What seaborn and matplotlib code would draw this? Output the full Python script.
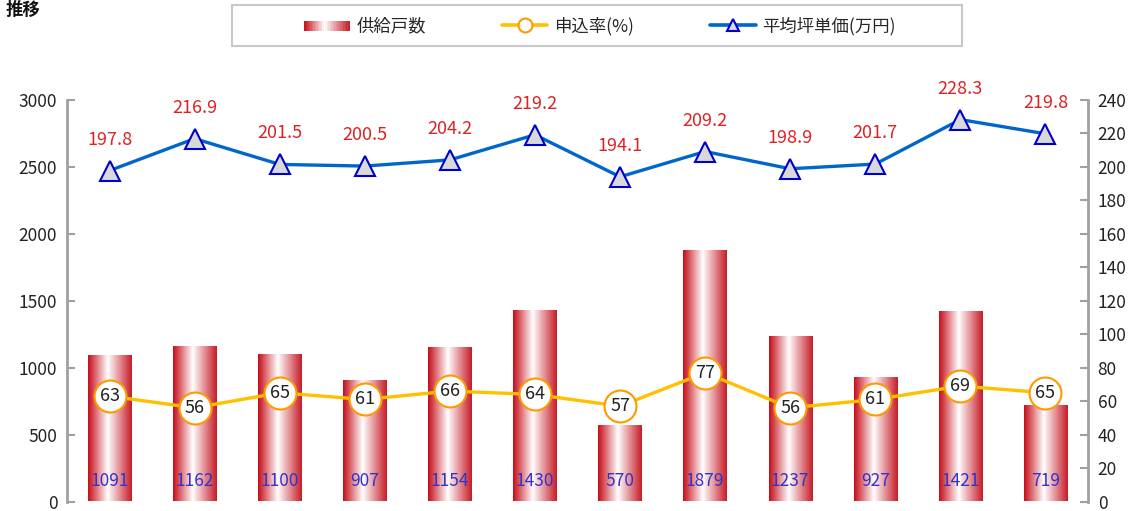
import numpy as np
import pandas as pd
import matplotlib
matplotlib.use("Agg")
import matplotlib.pyplot as plt
import seaborn as sns
from matplotlib.patches import Rectangle
from matplotlib.legend_handler import HandlerBase
from matplotlib.lines import Line2D
from matplotlib.colors import LinearSegmentedColormap

sns.set_theme(style="white")
plt.rcParams['font.family'] = ['Noto Sans CJK JP', 'DejaVu Sans']

# ---- data ----
periods = [str(i) for i in range(1, 13)]
supply = [1091, 1162, 1100, 907, 1154, 1430, 570, 1879, 1237, 927, 1421, 719]
rate = [63, 56, 65, 61, 66, 64, 57, 77, 56, 61, 69, 65]
price = [197.8, 216.9, 201.5, 200.5, 204.2, 219.2, 194.1, 209.2, 198.9, 201.7, 228.3, 219.8]
left_ticks = [0, 500, 1000, 1500, 2000, 2500, 3000]
right_ticks = list(range(0, 241, 20))
title = "推移"
legend_labels = ["供給戸数", "申込率(%)", "平均坪単価(万円)"]

df = pd.DataFrame({"period": periods, "supply": supply, "rate": rate, "price": price})

W, H = 1146, 511
fig = plt.figure(figsize=(W / 100, H / 100), dpi=100)
ax = fig.add_axes([67 / W, (H - 501.5) / H, (1088 - 67) / W, (501.5 - 100) / H])

grad_cmap = LinearSegmentedColormap.from_list(
    "bargrad",
    [(0.0, (0.78, 0.06, 0.10)), (0.45, (1.0, 1.0, 1.0)), (1.0, (0.78, 0.12, 0.16))])

sns.barplot(data=df, x="period", y="supply", ax=ax, width=0.51,
            color="none", edgecolor="none", linewidth=0, saturation=1)
grad = np.linspace(0, 1, 64).reshape(1, -1)
for p in list(ax.patches):
    x0, y0 = p.get_x(), p.get_y()
    w, h = p.get_width(), p.get_height()
    im = ax.imshow(grad, cmap=grad_cmap, aspect="auto",
                   extent=[x0, x0 + w, y0, y0 + h], zorder=2, interpolation="bilinear")
    im.set_clip_path(p)

ax.set_xlim(-0.5, 11.5)
ax.set_ylim(0, 3000)
ax.set_yticks(left_ticks)
ax.set_xticks([])
ax.set_xlabel("")
ax.set_ylabel("")

for i, v in enumerate(supply):
    ax.text(i, 155, str(v), ha="center", va="center", color="#3333CC", fontsize=12.5, zorder=5)

ax2 = ax.twinx()
ax2.set_position(ax.get_position())
sns.lineplot(data=df, x="period", y="rate", ax=ax2, color="#FFC000", linewidth=2.4,
             marker="o", markersize=23, markerfacecolor="white",
             markeredgecolor="#FF9900", markeredgewidth=1.5, zorder=3)
sns.lineplot(data=df, x="period", y="price", ax=ax2, color="#0066CC", linewidth=2.4,
             marker="^", markersize=15, markerfacecolor="#D9D9D9",
             markeredgecolor="#0000CC", markeredgewidth=1.5, zorder=3)
ax2.set_ylim(0, 240)
ax2.set_yticks(right_ticks)
ax2.set_xlim(-0.5, 11.5)
ax2.set_xlabel("")
ax2.set_ylabel("")

for i, v in enumerate(rate):
    ax2.text(i, v, str(v), ha="center", va="center", color="#222222", fontsize=13, zorder=6)
for i, v in enumerate(price):
    ax2.text(i, v + 18.5, f"{v:.1f}", ha="center", va="center", color="#DD2222", fontsize=13, zorder=6)

for a in (ax, ax2):
    for s in a.spines.values():
        s.set_visible(False)
    a.tick_params(axis="y", direction="in", length=6, width=1.5, color="#A0A0A0",
                  labelsize=12.5, labelcolor="#222222", pad=7)
    a.set_facecolor("none")
ax.spines["left"].set_visible(True)
ax.spines["left"].set_color("#A0A0A0")
ax.spines["left"].set_linewidth(2)
ax2.spines["right"].set_visible(True)
ax2.spines["right"].set_color("#A0A0A0")
ax2.spines["right"].set_linewidth(2)
ax.tick_params(axis="y", left=True, labelleft=True)
ax2.tick_params(axis="y", right=True, labelright=True)
ax.grid(False)
ax2.grid(False)

fig.text(6 / W, 1 - 10 / H, title, ha="left", va="center", fontsize=12.5, fontweight="bold", color="#111111")


class GradHandler(HandlerBase):
    def create_artists(self, legend, orig_handle, xdescent, ydescent, width, height, fontsize, trans):
        arts = []
        n = 30
        for k in range(n):
            c = grad_cmap((k + 0.5) / n)
            r = Rectangle((k * width / n, height * 0.05), width / n + 0.3, height * 0.8,
                          facecolor=c, edgecolor="none", transform=trans)
            arts.append(r)
        return arts


# legend frame
fig.patches.append(Rectangle((232 / W, 1 - 46 / H), (962 - 232) / W, 41 / H,
                             transform=fig.transFigure, facecolor="white",
                             edgecolor="#C8C8C8", linewidth=1.5, zorder=0))

bar_handle = Rectangle((0, 0), 1, 1)
rate_handle = Line2D([], [], color="#FFC000", linewidth=2.6, marker="o", markersize=10,
                     markerfacecolor="white", markeredgecolor="#FF9900", markeredgewidth=1.5)
price_handle = Line2D([], [], color="#0066CC", linewidth=2.6, marker="^", markersize=8,
                      markerfacecolor="#D9D9D9", markeredgecolor="#0000CC", markeredgewidth=1.5)
leg = fig.legend([bar_handle, rate_handle, price_handle], legend_labels,
                 handler_map={Rectangle: GradHandler()},
                 loc="center", bbox_to_anchor=(600 / W, 1 - 26 / H),
                 ncol=3, frameon=False, fontsize=12.5,
                 handlelength=2.6, columnspacing=4.4, handletextpad=0.4,
                 borderpad=0.2)

fig.savefig("out.png", dpi=100)
